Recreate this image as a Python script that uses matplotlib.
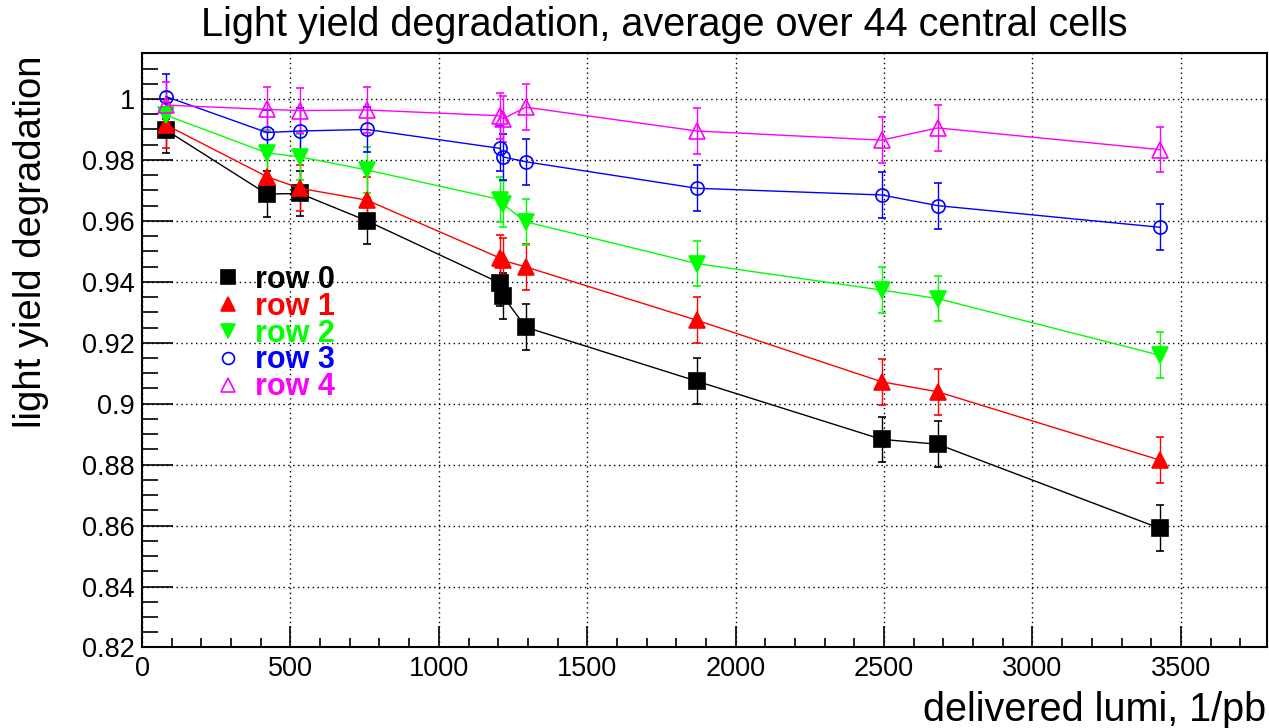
import matplotlib
matplotlib.use("Agg")
import matplotlib.pyplot as plt
from matplotlib.lines import Line2D
from matplotlib.ticker import MultipleLocator

plt.rcParams['font.family'] = ['Liberation Sans', 'DejaVu Sans']

# delivered luminosity (1/pb), two nearly coincident measurements near 1210
lumi = [81, 421, 532, 758, 1206, 1216, 1293, 1869, 2492, 2681, 3429]

row0 = [0.9898, 0.9688, 0.9690, 0.9600, 0.9396, 0.9353, 0.9251, 0.9074, 0.8883, 0.8867, 0.8591]
row1 = [0.9915, 0.9745, 0.9707, 0.9668, 0.9478, 0.9470, 0.9449, 0.9274, 0.9072, 0.9039, 0.8815]
row2 = [0.9947, 0.9823, 0.9810, 0.9767, 0.9670, 0.9655, 0.9597, 0.9460, 0.9373, 0.9345, 0.9159]
row3 = [1.0008, 0.9890, 0.9895, 0.9900, 0.9838, 0.9810, 0.9794, 0.9707, 0.9685, 0.9650, 0.9579]
row4 = [0.9980, 0.9966, 0.9962, 0.9964, 0.9945, 0.9935, 0.9973, 0.9895, 0.9865, 0.9905, 0.9834]
err = 0.0075

rows = [row0, row1, row2, row3, row4]
labels = ["row 0", "row 1", "row 2", "row 3", "row 4"]
colors = ["#000000", "#ff0000", "#00ff00", "#0000ff", "#ff00ff"]
markers = ["s", "^", "v", "o", "^"]
filled = [True, True, True, False, False]
msizes = [11.5, 11, 11, 9.5, 11]

fig = plt.figure(figsize=(12.69, 7.28), dpi=100)
ax = fig.add_axes([0.1119, 0.1106, 0.8865, 0.8162])

for y, c, m, f, ms in zip(rows, colors, markers, filled, msizes):
    ax.errorbar(lumi, y, yerr=err, color=c, ecolor=c, lw=1, elinewidth=1,
                capsize=3, capthick=1, marker=m, ms=ms,
                mfc=c if f else "none", mec=c, mew=1.2)

ax.set_xlim(0, 3790)
ax.set_ylim(0.82, 1.015)
ax.xaxis.set_minor_locator(MultipleLocator(100))
ax.yaxis.set_minor_locator(MultipleLocator(0.005))
ax.set_yticks([0.82, 0.84, 0.86, 0.88, 0.9, 0.92, 0.94, 0.96, 0.98, 1.0])
ax.set_yticklabels(["0.82", "0.84", "0.86", "0.88", "0.9", "0.92", "0.94", "0.96", "0.98", "1"])
ax.set_xticks([0, 500, 1000, 1500, 2000, 2500, 3000, 3500])
ax.set_xticklabels(["0", "500", "1000", "1500", "2000", "2500", "3000", "3500"])

ax.tick_params(axis='both', which='both', direction='in', top=False, right=False,
               labelsize=19.5, width=1.2)
ax.tick_params(axis='x', which='major', length=15, pad=6)
ax.tick_params(axis='x', which='minor', length=6.5)
ax.tick_params(axis='y', which='major', length=22, pad=5)
ax.tick_params(axis='y', which='minor', length=11.5)
for s in ax.spines.values():
    s.set_linewidth(1.5)

ax.grid(True, which='major', color='black', linestyle=(0, (1, 2.5)), linewidth=1)
ax.set_axisbelow(True)

fig.text(664 / 1269, 1 - 25 / 728, "Light yield degradation, average over 44 central cells",
         ha='center', va='center', fontsize=28.5)
ax.set_ylabel("light yield degradation", fontsize=27.5)
ax.yaxis.set_label_coords(-0.083, 0.997)
ax.yaxis.label.set_ha('right')
ax.set_xlabel("delivered lumi, 1/pb", fontsize=28.5)
ax.xaxis.set_label_coords(0.999, -0.074)
ax.xaxis.label.set_ha('right')

handles = [Line2D([], [], linestyle='none', marker=m, color=c, ms=ms * 0.9,
                  mfc=c if f else "none", mec=c, mew=1.2)
           for c, m, f, ms in zip(colors, markers, filled, msizes)]
leg = ax.legend(handles, labels, loc='upper left', bbox_to_anchor=(0.052, 0.67),
                frameon=False, handlelength=0.8, handletextpad=0.5, labelspacing=-0.1,
                borderpad=0, prop={'size': 22, 'weight': 'bold'}, labelcolor=colors)

fig.savefig("out.png", dpi=100)
